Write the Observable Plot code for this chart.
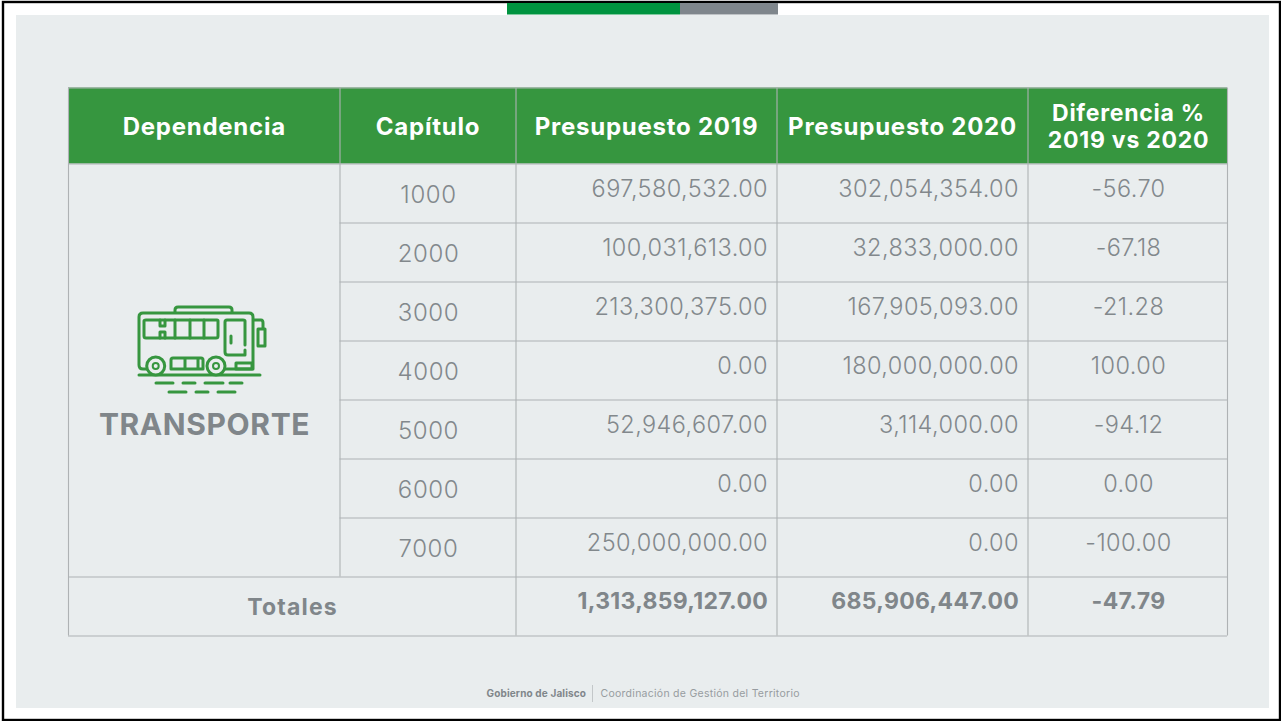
<!DOCTYPE html>
<html><head><meta charset="utf-8">
<script src="https://cdn.jsdelivr.net/npm/d3@7"></script>
<script src="https://cdn.jsdelivr.net/npm/@observablehq/plot@0.6"></script>
<style>html,body{margin:0;padding:0;background:#fff}svg{display:block}
.hd text{letter-spacing:.75px}.cap text{letter-spacing:.6px}.val text{letter-spacing:.42px}.tot text{letter-spacing:.3px}.lab text{letter-spacing:1.2px}.dep text{letter-spacing:.6px}.fl text{letter-spacing:.15px}.fr text{letter-spacing:.27px}</style>
</head><body><div id="chart"></div>
<script>
const headers = ["Dependencia","Capítulo","Presupuesto 2019","Presupuesto 2020"];
const diffHeader = ["Diferencia %","2019 vs 2020"];
const dependencia = "TRANSPORTE";
const capitulos = ["1000","2000","3000","4000","5000","6000","7000"];
const p2019 = [697580532,100031613,213300375,0,52946607,0,250000000];
const p2020 = [302054354,32833000,167905093,180000000,3114000,0,0];
const diffs = [-56.70,-67.18,-21.28,100.00,-94.12,0.00,-100.00];
const totalsLabel = "Totales";
const total2019 = 1313859127, total2020 = 685906447, totalDiff = -47.79;
const footerLeft = "Gobierno de Jalisco", footerRight = "Coordinación de Gestión del Territorio";

const F = "Inter, 'Noto Sans', sans-serif";
const loc = d3.formatLocale({decimal:".",thousands:",",grouping:[3],currency:["",""],minus:"-"});
const money = loc.format(",.2f"), pct = loc.format(".2f");
const colE = [68,339.5,515.5,776.5,1027.5,1227];
const rowE = [87.5,163.5,222.5,281.5,340.5,399.5,458.5,517.5,576.5,635.5];
const rows = capitulos.map((c,i)=>({c,a:money(p2019[i]),b:money(p2020[i]),d:pct(diffs[i]),y:(rowE[i+1]+rowE[i+2])/2}));
const LINE="#aeb2b4", GREY="#82888c", DARK="#80868a";

const icon = () => {
  const g = d3.create("svg:g").attr("fill","none").attr("stroke","#36963f").attr("stroke-width",3).attr("stroke-linecap","round").attr("stroke-linejoin","round");
  const paths = [
    "M147,369H143Q139,369 139,365V317Q139,313 143,313H249Q253,313 253,317V369H225",
    "M175,312V310Q175,307 178,307H229Q232,307 232,310V312",
    "M146,320H217Q218,320 218,321V336Q218,338 216,338H146Q144,338 144,336V321Q144,320 146,320Z",
    "M160,320V326H165V320M160,338V332H165V338M175,320V338M190,320V338M204,320V338",
    "M245,345V321Q245,320 243,320H227Q225,320 225,322V352Q225,355 228,355H245V350M231,336V343",
    "M254,320H261Q263,320 263,323V328",
    "M258,329H265V346H258Z",
    "M171,369V360Q171,358 173,358H201Q203,358 203,360V369H171M185,358V369M198,358V369",
    "M236,363H252V369H236Z",
    "M139,375H260",
    "M156,383H173M183,383H195M205,383H223M230,383H242",
    "M169,392H186M196,392H208M218,392H235"
  ];
  paths.forEach(d=>g.append("path").attr("d",d));
  [155.7,216].forEach(x=>{
    g.append("circle").attr("cx",x).attr("cy",366).attr("r",9).attr("fill","#e9edee");
    g.append("circle").attr("cx",x).attr("cy",366).attr("r",3).attr("stroke-width",2);
  });
  return g.node();
};

const plot = Plot.plot({
  width:1281,height:721,margin:0,
  style:{background:"#fff"},
  x:{domain:[0,1281],range:[0,1281],axis:null},
  y:{domain:[0,721],range:[0,721],axis:null},
  marks:[
    Plot.rect([0],{x1:3,x2:1280,y1:2,y2:720,fill:"#fff",stroke:"#000",strokeWidth:2.4}),
    Plot.rect([0],{x1:16,x2:1269,y1:15,y2:708,fill:"#e9edee"}),
    Plot.rect([0],{x1:507,x2:680,y1:3,y2:14.5,fill:"#00933f"}),
    Plot.rect([0],{x1:680,x2:778,y1:3,y2:14.5,fill:"#7f868c"}),
    Plot.rect([0],{x1:colE[0],x2:colE[5],y1:rowE[0],y2:rowE[1],fill:"#36963f"}),
    Plot.ruleY(rowE,{x1:(d,i)=>(i>=2&&i<=7)?colE[1]:colE[0],x2:colE[5],stroke:LINE,strokeWidth:1.1}),
    Plot.ruleX(colE,{y1:rowE[0],y2:(d,i)=>i===1?rowE[8]:rowE[9],stroke:LINE,strokeWidth:1.1}),
    // header
    Plot.text(headers,{className:"hd",x:(d,i)=>(colE[i]+colE[i+1])/2,y:127,text:d=>d,fill:"#fff",fontWeight:700,fontSize:24,fontFamily:F}),
    Plot.text(diffHeader,{className:"hd",x:1128,y:(d,i)=>113+i*27.5,text:d=>d,fill:"#fff",fontWeight:700,fontSize:23,fontFamily:F}),
    // body
    Plot.text(rows,{className:"cap",x:428,y:d=>d.y+1.5,text:"c",fill:GREY,fontSize:24,fontWeight:300,fontFamily:F}),
    Plot.text(rows,{className:"val",x:767.5,y:d=>d.y-4,text:"a",textAnchor:"end",fill:GREY,fontSize:23.5,fontWeight:300,fontFamily:F}),
    Plot.text(rows,{className:"val",x:1018.5,y:d=>d.y-4,text:"b",textAnchor:"end",fill:GREY,fontSize:23.5,fontWeight:300,fontFamily:F}),
    Plot.text(rows,{className:"val",x:1128,y:d=>d.y-4,text:"d",fill:GREY,fontSize:23.5,fontWeight:300,fontFamily:F}),
    // totals
    Plot.text([totalsLabel],{className:"lab",x:292,y:607.5,text:d=>d,fill:DARK,fontWeight:700,fontSize:23,fontFamily:F}),
    Plot.text([money(total2019)],{className:"tot",x:767.5,y:601.5,text:d=>d,textAnchor:"end",fill:DARK,fontWeight:700,fontSize:23,fontFamily:F}),
    Plot.text([money(total2020)],{className:"tot",x:1018.5,y:601.5,text:d=>d,textAnchor:"end",fill:DARK,fontWeight:700,fontSize:23,fontFamily:F}),
    Plot.text([pct(totalDiff)],{className:"tot",x:1128,y:601.5,text:d=>d,fill:DARK,fontWeight:700,fontSize:23,fontFamily:F}),
    // dependency
    icon,
    Plot.text([dependencia],{className:"dep",x:204,y:424.5,text:d=>d,fill:DARK,fontWeight:700,fontSize:30,fontFamily:F}),
    // footer
    Plot.text([footerLeft],{className:"fl",x:486,y:693,text:d=>d,textAnchor:"start",fill:DARK,fontWeight:700,fontSize:10,fontFamily:F}),
    Plot.ruleX([592],{y1:685,y2:702,stroke:"#c3c7c9",strokeWidth:1}),
    Plot.text([footerRight],{className:"fr",x:600,y:693,text:d=>d,textAnchor:"start",fill:"#979ca0",fontSize:10.5,fontFamily:F})
  ]
});
document.getElementById("chart").append(plot);
</script></body></html>
